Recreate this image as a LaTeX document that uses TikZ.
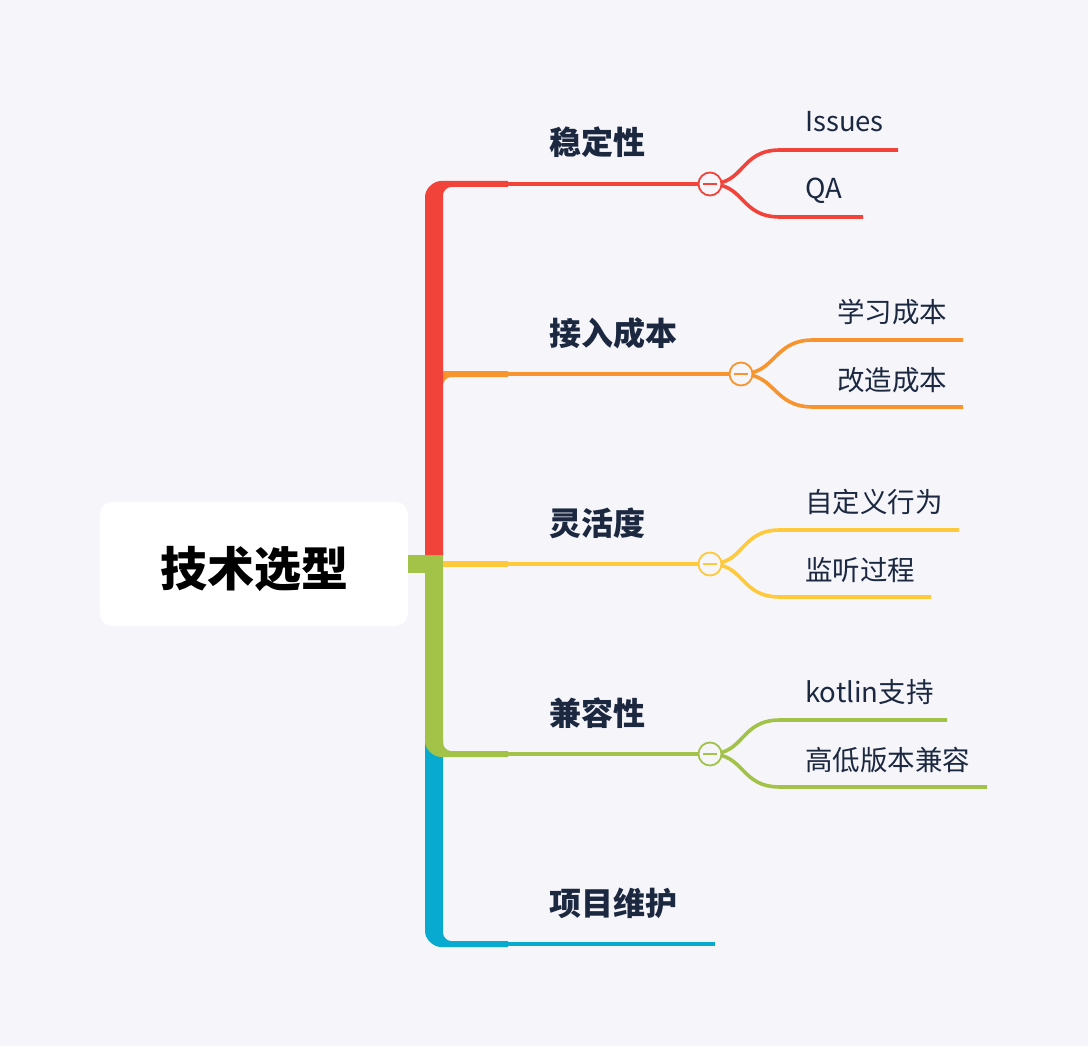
\documentclass[tikz,border=0pt]{standalone}
\usepackage{fontspec}
\setmainfont{Noto Sans CJK SC}
\definecolor{bg}{HTML}{F5F5FA}
\definecolor{cRed}{HTML}{F2433A}
\definecolor{cOrange}{HTML}{F7942D}
\definecolor{cYellow}{HTML}{FFC93C}
\definecolor{cGreen}{HTML}{A2C248}
\definecolor{cBlue}{HTML}{08ABCF}
\definecolor{txt}{HTML}{1B2840}
\tikzset{
  thinline/.style={line width=3.6pt},
  fold/.style={circle, draw=#1, fill=bg, line width=1.8pt, minimum size=23pt, inner sep=0pt,
    path picture={\draw[#1, line width=2pt] ([xshift=-7pt]path picture bounding box.center) -- ([xshift=7pt]path picture bounding box.center);}},
  branchlabel/.style={anchor=base west, inner sep=0pt, text=txt, font=\fontsize{32}{34}\selectfont\bfseries},
  sublabel/.style={anchor=base west, inner sep=0pt, text=txt, font=\fontsize{27.5}{30}\selectfont},
}
\begin{document}
\begin{tikzpicture}[x=1pt,y=-1pt]
\fill[bg] (0,0) rectangle (1088,1046);
\useasboundingbox (0,0) rectangle (1088,1046);
% central node
\node[fill=white, rounded corners=12pt, minimum width=308pt, minimum height=124pt, inner sep=0pt] (root) at (254,564) {};
\node[anchor=base, inner sep=0pt, font=\fontsize{47}{50}\selectfont\bfseries, text=black] (roottxt) at (254,586) {技术选型};
% trunk pieces
\fill[cBlue] (425,740) -- (425,931) .. controls (425,939.8) and (433.8,947) .. (441,947) -- (508,947) -- (508,941) -- (451,941) .. controls (446.6,941) and (443,936.6) .. (443,933) -- (443,740) -- cycle;
\fill[cGreen] (425,555) -- (425,741) .. controls (425,749.8) and (433.8,757) .. (441,757) -- (508,757) -- (508,751) -- (451,751) .. controls (446.6,751) and (443,746.6) .. (443,743) -- (443,555) -- cycle;
\fill[cGreen] (408,555) rectangle (443,573);
\fill[cYellow] (443,561) rectangle (508,567);
\fill[cOrange] (434,371) -- (508,371) -- (508,377) -- (451,377) .. controls (446.6,377) and (443,381.4) .. (443,385) -- (434,385) -- cycle;
\fill[cRed] (425,555) -- (425,197) .. controls (425,188.2) and (433.8,181) .. (441,181) -- (508,181) -- (508,187) -- (451,187) .. controls (446.6,187) and (443,191.4) .. (443,195) -- (443,555) -- cycle;
% branch start coordinates
\coordinate (s1) at (507,184);
\coordinate (s2) at (507,374);
\coordinate (s3) at (507,564);
\coordinate (s4) at (507,754);
\coordinate (s5) at (507,944);
\coordinate (e5) at (715,944);
% sub-branch ends
\coordinate (e11) at (898,150);
\coordinate (e12) at (863,217);
\coordinate (e21) at (963,340);
\coordinate (e22) at (963,407);
\coordinate (e31) at (959,530);
\coordinate (e32) at (931,597);
\coordinate (e41) at (947,720);
\coordinate (e42) at (987,787);
% fold circles (positions)
\coordinate (p1) at (710,184);
\coordinate (p2) at (741,374);
\coordinate (p3) at (710,564);
\coordinate (p4) at (710,754);
% connectors
\draw[cRed, thinline] (s1) -- (p1);
\draw[cRed, thinline] (p1) .. controls +(35,0) and +(-40,0) .. ([xshift=-118pt]e11) -- (e11);
\draw[cRed, thinline] (p1) .. controls +(35,0) and +(-40,0) .. ([xshift=-83pt]e12) -- (e12);
\draw[cOrange, thinline] (s2) -- (p2);
\draw[cOrange, thinline] (p2) .. controls +(35,0) and +(-40,0) .. ([xshift=-150pt]e21) -- (e21);
\draw[cOrange, thinline] (p2) .. controls +(35,0) and +(-40,0) .. ([xshift=-150pt]e22) -- (e22);
\draw[cYellow, thinline] (s3) -- (p3);
\draw[cYellow, thinline] (p3) .. controls +(35,0) and +(-40,0) .. ([xshift=-179pt]e31) -- (e31);
\draw[cYellow, thinline] (p3) .. controls +(35,0) and +(-40,0) .. ([xshift=-151pt]e32) -- (e32);
\draw[cGreen, thinline] (s4) -- (p4);
\draw[cGreen, thinline] (p4) .. controls +(35,0) and +(-40,0) .. ([xshift=-167pt]e41) -- (e41);
\draw[cGreen, thinline] (p4) .. controls +(35,0) and +(-40,0) .. ([xshift=-207pt]e42) -- (e42);
\draw[cBlue, thinline] (s5) -- (e5);
% fold markers
\node[fold=cRed] (c1) at (p1) {};
\node[fold=cOrange] (c2) at (p2) {};
\node[fold=cYellow] (c3) at (p3) {};
\node[fold=cGreen] (c4) at (p4) {};
% branch labels
\node[branchlabel] (b1) at (549,155) {稳定性};
\node[branchlabel] (b2) at (549,345) {接入成本};
\node[branchlabel] (b3) at (549,535) {灵活度};
\node[branchlabel] (b4) at (549,725) {兼容性};
\node[branchlabel] (b5) at (549,915) {项目维护};
% sub labels
\node[sublabel] (t11) at (805,132) {Issues};
\node[sublabel] (t12) at (805,199) {QA};
\node[sublabel] (t21) at (837,322) {学习成本};
\node[sublabel] (t22) at (837,390) {改造成本};
\node[sublabel] (t31) at (805,512) {自定义行为};
\node[sublabel] (t32) at (805,580) {监听过程};
\node[sublabel] (t41) at (805,702) {kotlin支持};
\node[sublabel] (t42) at (805,770) {高低版本兼容};
\end{tikzpicture}
\end{document}
